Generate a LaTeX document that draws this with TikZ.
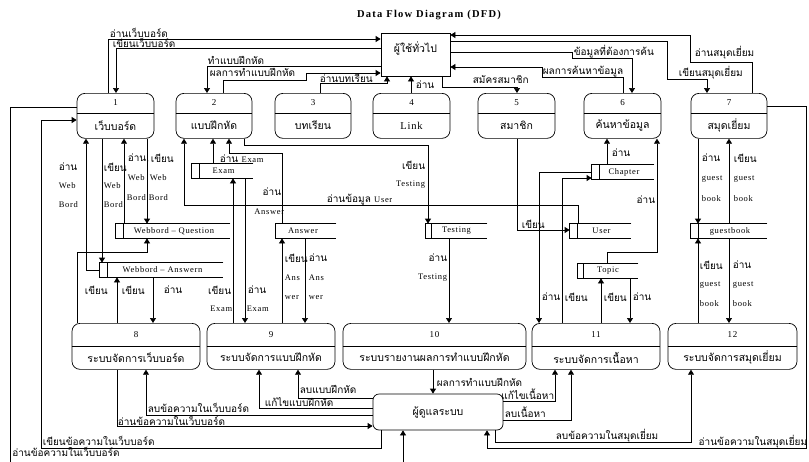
\documentclass[tikz,border=0pt]{standalone}
\usepackage{fontspec}
\setmainfont{Liberation Serif}[LetterSpace=8]
\newfontfamily\ttl{Liberation Serif}[LetterSpace=12]
\newfontfamily\thai[Script=Thai]{Loma}
\usetikzlibrary{arrows.meta}
\newcommand{\latn}[1]{{\rmfamily\fontsize{8.5}{9}\selectfont #1}}

\begin{document}
\begin{tikzpicture}[x=1pt, y=-1pt, line width=0.7pt,
  proc/.style={draw, rounded corners=8pt, inner sep=0pt},
  ext/.style={draw, inner sep=0pt},
  store/.style={inner sep=0pt, minimum height=14pt},
  flow/.style={-{Triangle[length=5pt,width=6pt]}},
  pnum/.style={font=\fontsize{9}{10}\selectfont, inner sep=0pt},
  pname/.style={font=\thai\fontsize{10.5}{11}\selectfont, inner sep=0pt},
  tlab/.style={font=\thai\fontsize{10}{11}\selectfont, inner sep=0.5pt},
  elab/.style={font=\fontsize{8.5}{9}\selectfont, inner sep=0.5pt}]
  \useasboundingbox (0,0) rectangle (809,461);

  \node[font=\ttl\bfseries\fontsize{10.5}{12}\selectfont] (title) at (429,15) {Data Flow Diagram (DFD)};

  % ผู้ใช้ทั่วไป / ผู้ดูแลระบบ
  \node[ext, minimum width=69pt, minimum height=43pt] (gen) at (415.5,54.5) {};
  \node[pname] (gen-t) at (415.5,48) {ผู้ใช้ทั่วไป};
  \node[proc, rounded corners=6pt, minimum width=130pt, minimum height=36pt, font=\thai\fontsize{10.5}{11}\selectfont] (admin) at (438,412) {ผู้ดูแลระบบ};

  % กระบวนการ
  \foreach \id/\cx/\tp/\w/\h/\dv/\nm in {
    1/115.5/93/77/45/20/เว็บบอร์ด,
    2/214/93/76/45/20/แบบฝึกหัด,
    3/313/93/76/45/20/บทเรียน,
    4/411.5/93/77/45/20/{\rmfamily Link},
    5/516.5/93/77/45/20/สมาชิก,
    6/622.5/93/77/45/20/ค้นหาข้อมูล,
    7/729/93/76/45/20/สมุดเยี่ยม,
    8/136/323/128/46/23/ระบบจัดการเว็บบอร์ด,
    9/271/323/128/46/23/ระบบจัดการแบบฝึกหัด,
    10/434.5/323/183/46/23/ระบบรายงานผลการทำแบบฝึกหัด,
    11/596/323/128/46/23/ระบบจัดการเนื้อหา,
    12/732.5/323/129/46/23/ระบบจัดการสมุดเยี่ยม}{
    \node[proc, minimum width=\w pt, minimum height=\h pt, anchor=north] (p\id) at (\cx,\tp) {};
    \draw ([yshift=-\dv pt]p\id.north west) -- ([yshift=-\dv pt]p\id.north east);
    \node[pnum] (p\id-n) at (\cx,\tp+\dv/2) {\id};
    \node[pname] (p\id-t) at (\cx,{\tp+(\dv+\h)/2}) {\nm};
  }

  % แหล่งเก็บข้อมูล
  \foreach \nm/\xl/\xr/\tp/\dd/\tx in {
    sExam/192/253/164/8/Exam,
    sWQ/116/230/224/8/{Webbord -- Question},
    sWA/100/223/263/8/{Webbord -- Answern},
    sAns/276/336/224/0/Answer,
    sTest/426/487/224/6/Testing,
    sChap/592/654/165/8/Chapter,
    sUser/570/631/224/8/User,
    sTopic/578/638/264/6/Topic,
    sGuest/691/767/224/8/guestbook}{
    \node[store, minimum width=\xr pt-\xl pt] (\nm) at ({(\xl+\xr)/2},\tp+7) {};
    \draw (\nm.north east) -- (\nm.north west) -- (\nm.south west) -- (\nm.south east);
    \draw ([xshift=\dd pt]\nm.north west) -- ([xshift=\dd pt]\nm.south west);
    \node[elab] (\nm-t) at ({(\xl+\dd+\xr)/2-3},\tp+7) {\tx};
  }

  % ด้านบน
  \draw[flow] (108,0 |- p1.north) -- (108,39) -- (108,39 -| gen.west);
  \draw[flow] (gen.west |- 0,48) -- (116,48) -- (116,0 |- p1.north);
  \draw[flow] (gen.west |- 0,66) -- (207,66) -- (207,0 |- p2.north);
  \draw[flow] (223,0 |- p2.north) -- (223,80) -- (306,80) -- (306,73) -- (gen.west |- 0,73);
  \draw[flow] (320,0 |- p3.north) -- (320,83) -- (387,83) -- (387,0 |- gen.south);
  \draw[flow] (411,0 |- p4.north) -- (411,0 |- gen.south);
  \draw[flow] (442,0 |- gen.south) -- (442,87) -- (517,87) -- (517,0 |- p5.north);
  \draw[flow] (gen.east |- 0,52) -- (572,52) -- (572,58) -- (632,58) -- (632,0 |- p6.north);
  \draw[flow] (623,0 |- p6.north) -- (623,77) -- (542,77) -- (542,67) -- (gen.east |- 0,67);
  \draw[flow] (752,0 |- p7.north) -- (752,62) -- (690,62) -- (690,35) -- (gen.east |- 0,35);
  \draw[flow] (gen.east |- 0,41) -- (667,41) -- (667,79) -- (707,79) -- (707,0 |- p7.north);

  \node[tlab, anchor=west] (t1) at (109,33) {อ่านเว็บบอร์ด};
  \node[tlab, anchor=west] (t2) at (112,43) {เขียนเว็บบอร์ด};
  \node[tlab, anchor=west] (t3) at (207,60) {ทำแบบฝึกหัด};
  \node[tlab, anchor=west] (t4) at (209,72) {ผลการทำแบบฝึกหัด};
  \node[tlab, anchor=west] (t5) at (319,78) {อ่านบทเรียน};
  \node[tlab, anchor=west] (t6) at (415,85) {อ่าน};
  \node[tlab, anchor=west] (t7) at (472,80) {สมัครสมาชิก};
  \node[tlab, anchor=west] (t8) at (573,52) {ข้อมูลที่ต้องการค้น};
  \node[tlab, anchor=west] (t9) at (542,72) {ผลการค้นหาข้อมูล};
  \node[tlab, anchor=west] (t10) at (694,53) {อ่านสมุดเยี่ยม};
  \node[tlab, anchor=west] (t11) at (678,73) {เขียนสมุดเยี่ยม};

  % เว็บบอร์ด
  \draw[flow] (sWA.west) -- (86,0 |- sWA.west) -- (86,0 |- p1.south);
  \draw[flow] (102,0 |- p1.south) -- (102,0 |- sWA.north);
  \draw[flow] (124,0 |- sWQ.north) -- (124,0 |- p1.south);
  \draw[flow] (147,0 |- p1.south) -- (147,0 |- sWQ.north);
  \draw[flow] (77,0 |- p8.north) -- (77,252) -- (147,252) -- (147,0 |- sWQ.south);
  \draw[flow] (117,0 |- p8.north) -- (117,0 |- sWA.south);
  \draw[flow] (153,0 |- sWA.south) -- (153,0 |- p8.north);

  % แบบฝึกหัด
  \draw[flow] (578,0 |- sUser.north) -- (578,205) -- (184,205) -- (184,0 |- p2.south);
  \draw[flow] (213,0 |- sExam.north) -- (213,0 |- p2.south);
  \draw[flow] (282,0 |- sAns.north) -- (282,153) -- (229,153) -- (229,0 |- p2.south);
  \draw[flow] (244,0 |- p2.south) -- (244,145) -- (428,145) -- (428,0 |- sTest.north);
  \draw[flow] (233,0 |- p9.north) -- (233,0 |- sExam.south);
  \draw[flow] (245,0 |- sExam.south) -- (245,0 |- p9.north);
  \draw[flow] (282,0 |- p9.north) -- (282,0 |- sAns.south);
  \draw[flow] (305,0 |- sAns.south) -- (305,0 |- p9.north);
  \draw[flow] (449,0 |- sTest.south) -- (449,0 |- p10.north);

  % สมาชิก เนื้อหา สมุดเยี่ยม
  \draw[flow] (517,0 |- p5.south) -- (517,230) -- (sUser.west |- 0,230);
  \draw[flow] (607,0 |- sChap.north) -- (607,0 |- p6.south);
  \draw[flow] (607,0 |- sTopic.north) -- (607,252) -- (657,252) -- (657,0 |- p6.south);
  \draw[flow] (sChap.west |- 0,172) -- (539,172) -- (539,0 |- p11.north);
  \draw[flow] (562,0 |- p11.north) -- (562,178) -- (sChap.west |- 0,178);
  \draw[flow] (601,0 |- p11.north) -- (601,0 |- sTopic.south);
  \draw[flow] (630,0 |- sTopic.south) -- (630,0 |- p11.north);
  \draw[flow] (698,0 |- p7.south) -- (698,0 |- sGuest.north);
  \draw[flow] (729,0 |- sGuest.north) -- (729,0 |- p7.south);
  \draw[flow] (698,0 |- p12.north) -- (698,0 |- sGuest.south);
  \draw[flow] (729,0 |- sGuest.south) -- (729,0 |- p12.north);

  \node[tlab, anchor=west] (m1) at (58,167) {อ่าน};
  \node[elab, anchor=west] (m2) at (58,186) {Web};
  \node[elab, anchor=west] (m3) at (58,205) {Bord};
  \node[tlab, anchor=west] (m4) at (103,167) {เขียน};
  \node[elab, anchor=west] (m5) at (103,186) {Web};
  \node[elab, anchor=west] (m6) at (103,205) {Bord};
  \node[tlab, anchor=west] (m7) at (127,158) {อ่าน,};
  \node[tlab, anchor=west] (m8) at (150,158) {เขียน};
  \node[elab, anchor=west] (m9) at (127,178) {Web};
  \node[elab, anchor=west] (m10) at (149,178) {Web};
  \node[elab, anchor=west] (m11) at (126,198) {Bord};
  \node[elab, anchor=west] (m12) at (148,198) {Bord};
  \node[tlab, anchor=west] (m13) at (219,159) {อ่าน \latn{Exam}};
  \node[tlab, anchor=east] (m14) at (282,192) {อ่าน};
  \node[elab, anchor=east] (m15) at (285,212) {Answer};
  \node[tlab, anchor=west] (m16) at (326,200) {อ่านข้อมูล \latn{User}};
  \node[tlab, anchor=east] (m17) at (426,165) {เขียน};
  \node[elab, anchor=east] (m18) at (426,185) {Testing};
  \node[tlab, anchor=west] (m19) at (521,224) {เขียน};
  \node[tlab, anchor=west] (m20) at (611,153) {อ่าน};
  \node[tlab, anchor=east] (m21) at (656,200) {อ่าน};
  \node[tlab, anchor=west] (m22) at (701,158) {อ่าน};
  \node[elab, anchor=west] (m23) at (701,179) {guest};
  \node[elab, anchor=west] (m24) at (701,199) {book};
  \node[tlab, anchor=west] (m25) at (733,158) {เขียน};
  \node[elab, anchor=west] (m26) at (733,179) {guest};
  \node[elab, anchor=west] (m27) at (733,199) {book};
  \node[tlab, anchor=west] (m28) at (699,265) {เขียน};
  \node[elab, anchor=west] (m29) at (699,285) {guest};
  \node[elab, anchor=west] (m30) at (699,304) {book};
  \node[tlab, anchor=west] (m31) at (732,265) {อ่าน};
  \node[elab, anchor=west] (m32) at (732,285) {guest};
  \node[elab, anchor=west] (m33) at (732,304) {book};

  \node[tlab, anchor=west] (n1) at (84,290) {เขียน};
  \node[tlab, anchor=west] (n2) at (121,290) {เขียน};
  \node[tlab, anchor=west] (n3) at (163,290) {อ่าน};
  \node[tlab, anchor=east] (n4) at (232,290) {เขียน};
  \node[elab, anchor=east] (n5) at (233,309) {Exam};
  \node[tlab, anchor=west] (n6) at (247,290) {อ่าน};
  \node[elab, anchor=west] (n7) at (246,309) {Exam};
  \node[tlab, anchor=west] (n8) at (284,258) {เขียน};
  \node[elab, anchor=west] (n9) at (284,278) {Ans};
  \node[elab, anchor=west] (n10) at (284,298) {wer};
  \node[tlab, anchor=west] (n11) at (308,258) {อ่าน};
  \node[elab, anchor=west] (n12) at (308,278) {Ans};
  \node[elab, anchor=west] (n13) at (308,298) {wer};
  \node[tlab, anchor=east] (n14) at (448,258) {อ่าน};
  \node[elab, anchor=east] (n15) at (448,278) {Testing};
  \node[tlab, anchor=west] (n16) at (541,297) {อ่าน};
  \node[tlab, anchor=west] (n17) at (564,297) {เขียน};
  \node[tlab, anchor=west] (n18) at (603,297) {เขียน};
  \node[tlab, anchor=west] (n19) at (632,297) {อ่าน};

  % ด้านล่าง
  \draw[flow] (117,0 |- p8.south) -- (117,426) -- (admin.west |- 0,426);
  \draw[flow] (admin.west |- 0,415) -- (146,415) -- (146,0 |- p8.south);
  \draw[flow] (admin.west |- 0,408) -- (259,408) -- (259,0 |- p9.south);
  \draw[flow] (admin.west |- 0,398) -- (298,398) -- (298,0 |- p9.south);
  \draw[flow] (433,0 |- p10.south) -- (433,0 |- admin.north);
  \draw[flow] (admin.east |- 0,401) -- (555,401) -- (555,0 |- p11.south);
  \draw[flow] (admin.east |- 0,420) -- (571,420) -- (571,0 |- p11.south);
  \draw[flow] (495,0 |- admin.south) -- (495,442) -- (691,442) -- (691,0 |- p12.south);
  \draw[flow] (p7.east |- 0,106) -- (806,106) -- (806,448) -- (487,448) -- (487,0 |- admin.south);
  \draw[flow] (p1.west |- 0,107) -- (10,107) -- (10,462) -- (403,462) -- (403,0 |- admin.south);
  \draw[flow] (381,0 |- admin.south) -- (381,448) -- (41,448) -- (41,120) -- (p1.west |- 0,120);

  \node[tlab, anchor=west] (b1) at (147,408) {ลบข้อความในเว็บบอร์ด};
  \node[tlab, anchor=west] (b2) at (117,421) {อ่านข้อความในเว็บบอร์ด};
  \node[tlab, anchor=west] (b3) at (42,441) {เขียนข้อความในเว็บบอร์ด};
  \node[tlab, anchor=west, inner sep=0pt] (b4) at (12,452) {อ่านข้อความในเว็บบอร์ด};
  \node[tlab, anchor=west] (b5) at (264,402) {แก้ไขแบบฝึกหัด};
  \node[tlab, anchor=west] (b6) at (299,389) {ลบแบบฝึกหัด};
  \node[tlab, anchor=west] (b7) at (436,382) {ผลการทำแบบฝึกหัด};
  \node[tlab, anchor=east] (b8) at (555,394) {แก้ไขเนื้อหา};
  \node[tlab, anchor=west] (b9) at (504,412) {ลบเนื้อหา};
  \node[tlab, anchor=west] (b10) at (555,436) {ลบข้อความในสมุดเยี่ยม};
  \node[tlab, anchor=east] (b11) at (808,442) {อ่านข้อความในสมุดเยี่ยม};
\end{tikzpicture}
\end{document}
